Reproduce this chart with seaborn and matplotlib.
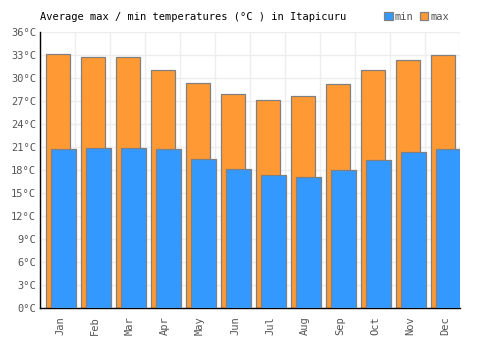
import numpy as np
import pandas as pd
import matplotlib
matplotlib.use('Agg')
import matplotlib.pyplot as plt
import seaborn as sns
from matplotlib.patches import Patch

months = ['Jan', 'Feb', 'Mar', 'Apr', 'May', 'Jun', 'Jul', 'Aug', 'Sep', 'Oct', 'Nov', 'Dec']
max_temp = [33.1, 32.8, 32.7, 31.1, 29.4, 27.9, 27.1, 27.6, 29.2, 31.1, 32.3, 33.0]
min_temp = [20.7, 20.9, 20.9, 20.7, 19.4, 18.1, 17.3, 17.1, 18.0, 19.3, 20.3, 20.7]
y_ticks = list(range(0, 37, 3))

sns.set_style('white')
plt.rcParams['font.family'] = ['DejaVu Sans Mono']
plt.rcParams['font.size'] = 7.5

orange = '#ff9933'
blue = '#3399ff'
edge = '#808080'

idx = np.arange(len(months))
df = pd.DataFrame({'pos': idx, 'max': max_temp, 'min': min_temp})

fig = plt.figure(figsize = (5, 3.5), dpi = 100)
ax = fig.add_axes([0.08, 0.12, 0.84, 0.7886])

sns.barplot(x = df['pos'] + 0.015, y = df['max'], native_scale = True, width = 0.67,
            color = orange, edgecolor = edge, linewidth = 0.9, saturation = 1, ax = ax, zorder = 2)
sns.barplot(x = df['pos'] + 0.17, y = df['min'], native_scale = True, width = 0.70,
            color = blue, edgecolor = edge, linewidth = 0.9, saturation = 1, ax = ax, zorder = 3)

ax.set_xlim(-0.5, 11.5)
ax.set_ylim(0, 36)
ax.set_yticks(y_ticks)
ax.set_yticklabels([f'{t}°C' for t in y_ticks], color = '#555555')
ax.set_xticks(idx + 0.07)
ax.set_xticklabels(months, rotation = 90, color = '#555555')
ax.set_xticks(np.arange(-0.5, 12, 1), minor = True)
ax.tick_params(axis = 'x', which = 'major', length = 0, pad = 6)
ax.tick_params(axis = 'x', which = 'minor', length = 0)
ax.tick_params(axis = 'y', length = 0, pad = 3)
ax.set_xlabel('')
ax.set_ylabel('')

ax.grid(False)
ax.xaxis.grid(True, which = 'minor', color = '#eeeeee', linewidth = 1, zorder = 0)
ax.yaxis.grid(True, which = 'major', color = '#eeeeee', linewidth = 1, zorder = 0)
ax.set_axisbelow(True)

for s in ['top', 'right']:
    ax.spines[s].set_visible(False)
for s in ['left', 'bottom']:
    ax.spines[s].set_color('black')
    ax.spines[s].set_linewidth(1)

fig.text(0.08, 0.952, 'Average max / min temperatures (°C ) in Itapicuru', fontsize = 7.5,
         color = 'black', va = 'center', ha = 'left')

handles = [Patch(facecolor = blue, edgecolor = edge, linewidth = 0.9, label = 'min'),
           Patch(facecolor = orange, edgecolor = edge, linewidth = 0.9, label = 'max')]
leg = fig.legend(handles = handles, loc = 'center right', bbox_to_anchor = (0.908, 0.952), ncol = 2,
                 frameon = False, handlelength = 0.8, handleheight = 0.8, handletextpad = 0.2,
                 columnspacing = 0.6, borderpad = 0, fontsize = 7.5)
for t in leg.get_texts():
    t.set_color('#555555')

fig.savefig('out.png', dpi = 100)
